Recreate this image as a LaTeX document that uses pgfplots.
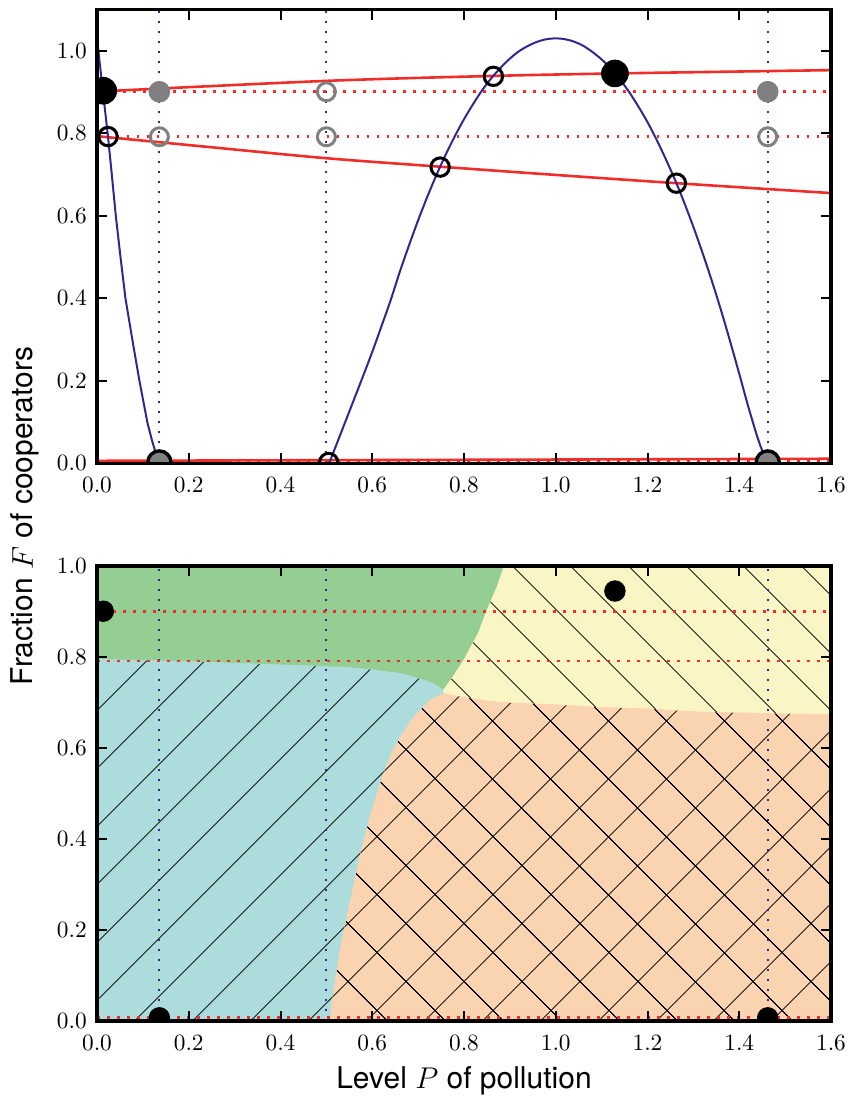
\RequirePackage{fix-cm}
\documentclass[border=0pt]{standalone}
\usepackage[no-math]{fontspec}
\setmainfont{TeX Gyre Heros}
\usepackage{pgfplots}
\pgfplotsset{compat=1.18}
\usetikzlibrary{patterns.meta}

\definecolor{redc}{RGB}{240,45,40}
\definecolor{bluec}{RGB}{51,38,140}
\definecolor{grayc}{RGB}{128,128,128}
\definecolor{greenc}{RGB}{148,206,146}
\definecolor{cyanc}{RGB}{172,221,220}
\definecolor{yellowc}{RGB}{250,245,197}
\definecolor{peachc}{RGB}{250,211,176}

\pgfplotsset{
  myaxis/.style={
    scale only axis, width=367pt,
    xmin=0, xmax=1.6,
    xtick={0,0.2,0.4,0.6,0.8,1.0,1.2,1.4,1.6},
    ytick={0,0.2,0.4,0.6,0.8,1.0},
    tick align=inside, major tick length=5pt,
    tick style={black, line width=1pt},
    axis line style={line width=1.6pt},
    tick label style={font=\fontsize{11.65}{13}\selectfont},
    xticklabel style={yshift=-3.6pt},
    yticklabel style={xshift=-1.6pt},
    /pgf/number format/fixed,
    /pgf/number format/fixed zerofill,
    /pgf/number format/precision=1,
    axis on top,
    clip marker paths=true,
  },
  reddot/.style={redc, line width=1.35pt, dash pattern=on 1.35pt off 3.65pt},
  bluedot/.style={bluec, line width=1.1pt, dash pattern=on 1.1pt off 3.9pt},
}

\begin{document}
\begin{tikzpicture}
\useasboundingbox (-48.5pt,4.75pt) rectangle (375.5pt,-543.75pt);

% ---------------- top panel ----------------
\begin{axis}[myaxis, at={(0pt,0pt)}, anchor=north west, height=226.9pt, ymin=0, ymax=1.1]
% vertical dotted lines
\addplot[bluedot] coordinates {(0.136,0) (0.136,1.1)};
\addplot[bluedot] coordinates {(0.5,0) (0.5,1.1)};
\addplot[bluedot] coordinates {(1.462,0) (1.462,1.1)};
% horizontal dotted lines
\addplot[reddot] coordinates {(0.0137,0.9006) (1.6,0.9006)};
\addplot[reddot] coordinates {(0.021,0.7915) (1.6,0.7915)};
\addplot[reddot] coordinates {(0,0.004) (1.6,0.004)};
% red solid lines
\addplot[redc, line width=1.3pt, smooth] coordinates {(0,0.901) (0.5,0.927) (0.864,0.939) (1.129,0.945) (1.6,0.953)};
\addplot[redc, line width=1.3pt, smooth] coordinates {(0,0.793) (0.25,0.766) (0.5,0.7395) (0.7476,0.719) (1.0,0.699) (1.263,0.679) (1.6,0.655)};
\addplot[redc, line width=1.3pt] coordinates {(0,0.006) (1.6,0.011)};
% blue curves
\addplot[bluec, line width=1pt] coordinates {(0,1.035) (0.003,1.0) (0.013,0.90) (0.024,0.792) (0.032,0.703) (0.041,0.60) (0.051,0.502) (0.062,0.40) (0.077,0.30) (0.0925,0.20) (0.110,0.098) (0.120,0.055) (0.128,0.025) (0.134,0.0)};
\addplot[bluec, line width=1pt, smooth] coordinates {
(0.506,0) (0.54,0.097) (0.576,0.2) (0.60,0.27) (0.62,0.332) (0.64,0.395) (0.66,0.464) (0.68,0.528) (0.70,0.589) (0.72,0.646) (0.74,0.699) (0.76,0.748) (0.78,0.793) (0.80,0.834) (0.82,0.871) (0.84,0.905) (0.86,0.934) (0.88,0.959) (0.90,0.981) (0.92,0.999) (0.94,1.012) (0.96,1.022) (0.98,1.028) (1.0,1.03)
(1.02,1.028) (1.04,1.022) (1.06,1.012) (1.08,0.997) (1.10,0.979) (1.12,0.957) (1.14,0.930) (1.16,0.900) (1.18,0.865) (1.20,0.827) (1.22,0.784) (1.24,0.737) (1.26,0.687) (1.28,0.632) (1.30,0.573) (1.32,0.510) (1.34,0.443) (1.36,0.372) (1.38,0.296) (1.40,0.217) (1.42,0.136) (1.44,0.062) (1.452,0.025) (1.462,0)};
% markers
\addplot[only marks, mark=*, mark size=6.7pt, black] coordinates {(0.0137,0.903) (1.129,0.945)};
\addplot[only marks, mark=*, mark size=5.8pt, mark options={draw=black, fill=grayc, line width=1.7pt}] coordinates {(0.136,0.002) (1.462,0.002)};
\addplot[only marks, mark=o, mark size=4.6pt, mark options={draw=black, line width=1.5pt}] coordinates {(0.024,0.792) (0.748,0.718) (0.864,0.938) (1.263,0.679) (0.505,0.002)};
\addplot[only marks, mark=*, mark size=5.2pt, mark options={draw=grayc, fill=grayc}] coordinates {(0.136,0.9006) (1.462,0.9006)};
\addplot[only marks, mark=o, mark size=4.5pt, mark options={draw=grayc, line width=1.5pt}] coordinates {(0.136,0.7915) (0.5,0.9006) (0.5,0.7915) (1.462,0.7915)};
\end{axis}

% ---------------- bottom panel ----------------
\begin{axis}[myaxis, at={(0pt,-278.25pt)}, anchor=north west, height=227.5pt, ymin=0, ymax=1]
% green
\addplot[draw=greenc, line width=0.3pt, fill=greenc] coordinates {(0,1) (0.887,1) (0.87,0.95) (0.849,0.90) (0.831,0.852) (0.799,0.792) (0.775,0.755) (0.755,0.727) (0.733,0.742) (0.70,0.753) (0.66,0.764) (0.60,0.772) (0.55,0.777) (0.42,0.782) (0.2,0.79) (0,0.795)};
% cyan
\addplot[draw=cyanc, line width=0.3pt, fill=cyanc] coordinates {(0,0) (0.508,0) (0.512,0.039) (0.530,0.156) (0.551,0.259) (0.573,0.361) (0.595,0.449) (0.622,0.537) (0.645,0.595) (0.665,0.63) (0.69,0.668) (0.726,0.705) (0.755,0.72) (0.755,0.727) (0.733,0.742) (0.70,0.753) (0.66,0.764) (0.60,0.772) (0.55,0.777) (0.42,0.782) (0.2,0.79) (0,0.795)};
\addplot[draw=none, pattern={Lines[angle=45,distance=20.5pt,line width=0.45pt]}, pattern color=black] coordinates {(0,0) (0.508,0) (0.512,0.039) (0.530,0.156) (0.551,0.259) (0.573,0.361) (0.595,0.449) (0.622,0.537) (0.645,0.595) (0.665,0.63) (0.69,0.668) (0.726,0.705) (0.755,0.72) (0.755,0.727) (0.733,0.742) (0.70,0.753) (0.66,0.764) (0.60,0.772) (0.55,0.777) (0.42,0.782) (0.2,0.79) (0,0.795)};
% yellow
\addplot[draw=yellowc, line width=0.3pt, fill=yellowc] coordinates {(0.887,1) (1.6,1) (1.6,0.673) (1.314,0.679) (1.2,0.686) (1.1,0.689) (1.0,0.695) (0.88,0.700) (0.80,0.711) (0.755,0.72) (0.755,0.727) (0.775,0.755) (0.799,0.792) (0.831,0.852) (0.849,0.90) (0.87,0.95)};
\addplot[draw=none, pattern={Lines[angle=-45,distance=20.5pt,line width=0.45pt]}, pattern color=black] coordinates {(0.887,1) (1.6,1) (1.6,0.673) (1.314,0.679) (1.2,0.686) (1.1,0.689) (1.0,0.695) (0.88,0.700) (0.80,0.711) (0.755,0.72) (0.755,0.727) (0.775,0.755) (0.799,0.792) (0.831,0.852) (0.849,0.90) (0.87,0.95)};
% peach
\addplot[draw=peachc, line width=0.3pt, fill=peachc] coordinates {(0.508,0) (1.6,0) (1.6,0.673) (1.314,0.679) (1.2,0.686) (1.1,0.689) (1.0,0.695) (0.88,0.700) (0.80,0.711) (0.755,0.72) (0.726,0.705) (0.69,0.668) (0.665,0.63) (0.645,0.595) (0.622,0.537) (0.595,0.449) (0.573,0.361) (0.551,0.259) (0.530,0.156) (0.512,0.039)};
\addplot[draw=none, pattern={Hatch[angle=45,distance=20.5pt,line width=0.45pt]}, pattern color=black] coordinates {(0.508,0) (1.6,0) (1.6,0.673) (1.314,0.679) (1.2,0.686) (1.1,0.689) (1.0,0.695) (0.88,0.700) (0.80,0.711) (0.755,0.72) (0.726,0.705) (0.69,0.668) (0.665,0.63) (0.645,0.595) (0.622,0.537) (0.595,0.449) (0.573,0.361) (0.551,0.259) (0.530,0.156) (0.512,0.039)};
% dotted lines
\addplot[bluedot] coordinates {(0.136,0) (0.136,1)};
\addplot[bluedot] coordinates {(0.5,0) (0.5,1)};
\addplot[bluedot] coordinates {(1.462,0) (1.462,1)};
\addplot[reddot] coordinates {(0.0137,0.9006) (1.6,0.9006)};
\addplot[reddot] coordinates {(0,0.7915) (1.6,0.7915)};
\addplot[reddot] coordinates {(0,0.007) (1.6,0.007)};
% markers
\addplot[only marks, mark=*, mark size=5.15pt, black] coordinates {(0.0137,0.9006) (1.129,0.945) (0.136,0.007) (1.462,0.007)};
\end{axis}

\node[rotate=90, anchor=base, font=\fontsize{15}{18}\selectfont] at (-32pt,-253.25pt) {Fraction $F$ of cooperators};
\node[anchor=base, font=\fontsize{15}{18}\selectfont] at (183.5pt,-539.25pt) {Level $P$ of pollution};
\end{tikzpicture}
\end{document}
